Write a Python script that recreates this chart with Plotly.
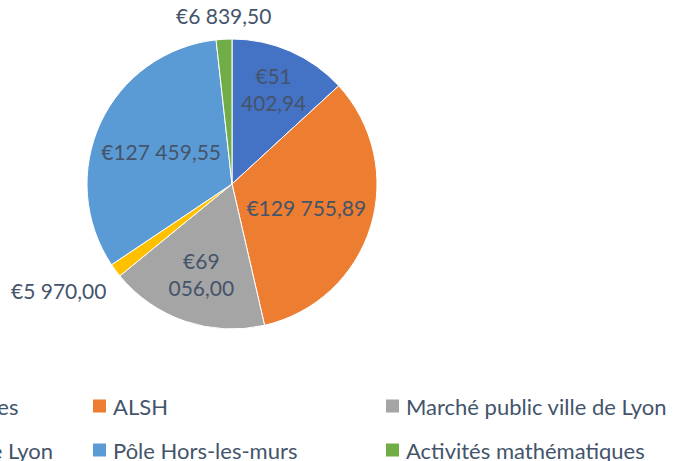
import math
import plotly.graph_objects as go

# ---- data ----
categories = [
    "Ateliers périscolaires",
    "ALSH",
    "Marché public ville de Lyon",
    "Subvention ville de Lyon",
    "Pôle Hors-les-murs",
    "Activités mathématiques",
]
amounts = [51402.94, 129755.89, 69056.00, 5970.00, 127459.55, 6839.50]

# ---- style ----
colors = ["#4472C4", "#ED7D31", "#A5A5A5", "#FFC000", "#5B9BD5", "#70AD47"]
outside_label = [False, False, False, True, False, True]
wrap_label = [True, False, True, False, False, False]
TEXT_COLOR = "#44546A"
FONT = "Lato"
LABEL_SIZE = 21
LEGEND_SIZE = 22

W, H = 673, 461
CX, CY, R = 232, 184, 145


def fr_euro(v):
    return "€" + f"{v:,.2f}".replace(",", " ").replace(".", ",")


texts = [fr_euro(v).replace(" ", "<br>", 1) if w else fr_euro(v)
         for v, w in zip(amounts, wrap_label)]
inside_texts = ["" if o else t for t, o in zip(texts, outside_label)]

fig = go.Figure(
    go.Pie(
        labels=categories,
        values=amounts,
        text=inside_texts,
        textinfo="text",
        textposition="inside",
        insidetextorientation="horizontal",
        sort=False,
        direction="clockwise",
        rotation=0,
        marker=dict(colors=colors, line=dict(color="white", width=1)),
        insidetextfont=dict(family=FONT, size=LABEL_SIZE, color=TEXT_COLOR),
        domain=dict(x=[(CX - R) / W, (CX + R) / W],
                    y=[1 - (CY + R) / H, 1 - (CY - R) / H]),
        showlegend=False,
        hoverinfo="label+value+percent",
    )
)

shapes, annotations = [], []

# ---- outside labels for the two thin slices, placed at each slice's mid-angle ----
total = sum(amounts)
cum = 0.0
for v, t, o in zip(amounts, texts, outside_label):
    mid = (cum + v / 2) / total * 2 * math.pi
    cum += v
    if not o:
        continue
    s, c = math.sin(mid), math.cos(mid)
    rr = R + 9
    px, py = CX + rr * s, CY - rr * c
    xa = "right" if s < -0.3 else ("left" if s > 0.3 else "center")
    ya = "bottom" if c > 0.3 else ("top" if c < -0.3 else "middle")
    annotations.append(dict(xref="paper", yref="paper", x=px / W, y=1 - py / H,
                            xanchor=xa, yanchor=ya, text=t, showarrow=False,
                            font=dict(family=FONT, size=LABEL_SIZE, color=TEXT_COLOR)))

# ---- manual legend (first column runs off the left edge, as in the reference) ----
col_left = [-200, 93, 386]
row_mid = [406, 450]
SQ = 13
for i, (name, col) in enumerate(zip(categories, colors)):
    r, c = divmod(i, 3)
    x0 = col_left[c]
    ym = row_mid[r]
    shapes.append(dict(type="rect", xref="paper", yref="paper",
                       x0=x0 / W, x1=(x0 + SQ) / W,
                       y0=1 - (ym + SQ / 2) / H, y1=1 - (ym - SQ / 2) / H,
                       fillcolor=col, line=dict(width=0)))
    annotations.append(dict(xref="paper", yref="paper",
                            x=(x0 + SQ + 5) / W, y=1 - ym / H,
                            xanchor="left", yanchor="middle",
                            text=name, showarrow=False,
                            font=dict(family=FONT, size=LEGEND_SIZE, color=TEXT_COLOR)))

fig.update_layout(
    width=W, height=H,
    margin=dict(l=0, r=0, t=0, b=0, autoexpand=False),
    paper_bgcolor="white", plot_bgcolor="white",
    shapes=shapes, annotations=annotations,
)

fig.write_html(
    "out.html",
    config={"displayModeBar": False},
    post_script="document.body.style.margin='0px';document.body.style.overflow='hidden';",
)
